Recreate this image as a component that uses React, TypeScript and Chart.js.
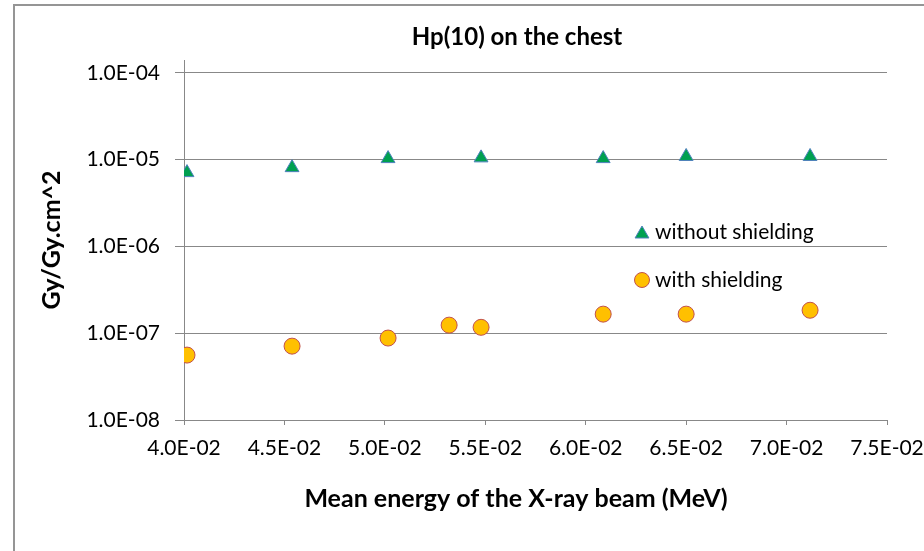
import React, { useEffect, useRef } from "react";
import { Chart, registerables } from "chart.js";

Chart.register(...registerables);

const FONT = "Lato, 'Open Sans', sans-serif";

const chartTitle = "Hp(10) on the chest";
const xAxisTitle = "Mean energy of the X-ray beam (MeV)";
const yAxisTitle = "Gy/Gy.cm^2";

const seriesNames = ["without shielding", "with shielding"];

const energiesWithout = [0.04015, 0.04538, 0.05016, 0.05479, 0.06087, 0.065, 0.07117];
const valuesWithout = [7.1e-6, 8.1e-6, 1.03e-5, 1.05e-5, 1.03e-5, 1.09e-5, 1.09e-5];

const energiesWith = [0.04015, 0.04538, 0.05016, 0.0532, 0.05479, 0.06087, 0.065, 0.07117];
const valuesWith = [5.6e-8, 7.1e-8, 8.8e-8, 1.24e-7, 1.17e-7, 1.66e-7, 1.66e-7, 1.84e-7];

const xMin = 0.04;
const xMax = 0.075;
const xStep = 0.005;
const yMin = 1e-8;
const yMax = 1.41e-4;

function sci(v: number, digits: number) {
  const s = v.toExponential(digits);
  const [m, e] = s.split("e");
  const n = parseInt(e, 10);
  const sign = n < 0 ? "-" : "+";
  const abs = Math.abs(n).toString().padStart(2, "0");
  return `${m}E${sign}${abs}`;
}

function isDecade(v: number) {
  const l = Math.log10(v);
  return Math.abs(l - Math.round(l)) < 1e-6;
}

const overlayPlugin = {
  id: "overlay",
  afterDraw(chart: any) {
    const ctx = chart.ctx as CanvasRenderingContext2D;
    ctx.save();
    ctx.fillStyle = "#000";
    ctx.textAlign = "center";
    ctx.textBaseline = "middle";
    ctx.font = `bold 24px ${FONT}`;
    ctx.fillText(chartTitle, 517, 37);
    ctx.font = `bold 25px ${FONT}`;
    ctx.fillText(xAxisTitle, 516, 499);

    // legend
    const lx = 642;
    const rows = [232, 280];
    ctx.font = `21px ${FONT}`;
    ctx.textAlign = "left";
    chart.data.datasets.forEach((ds: any, i: number) => {
      const y = rows[i];
      ctx.fillStyle = ds.backgroundColor;
      ctx.strokeStyle = ds.borderColor;
      ctx.lineWidth = ds.borderWidth;
      const r = ds.legendRadius;
      ctx.beginPath();
      if (ds.pointStyle === "triangle") {
        const h = r * 1.5;
        const w = r * Math.sqrt(3);
        ctx.moveTo(lx, y - h / 2);
        ctx.lineTo(lx + w / 2, y + h / 2);
        ctx.lineTo(lx - w / 2, y + h / 2);
        ctx.closePath();
      } else {
        ctx.arc(lx, y, r, 0, Math.PI * 2);
      }
      ctx.fill();
      ctx.stroke();
      ctx.fillStyle = "#000";
      ctx.fillText(ds.label, lx + 13, y);
    });
    ctx.restore();
  },
};

export default function App() {
  const ref = useRef<HTMLCanvasElement>(null);

  useEffect(() => {
    if (!ref.current) return;
    const chart = new Chart(ref.current, {
      type: "scatter",
      data: {
        datasets: [
          {
            label: seriesNames[0],
            data: energiesWithout.map((x, i) => ({ x, y: valuesWithout[i] })),
            pointStyle: "triangle",
            pointRadius: 8,
            pointHoverRadius: 8,
            backgroundColor: "#00A050",
            borderColor: "#4F81BD",
            borderWidth: 1,
            legendRadius: 8,
          } as any,
          {
            label: seriesNames[1],
            data: energiesWith.map((x, i) => ({ x, y: valuesWith[i] })),
            pointStyle: "circle",
            pointRadius: 8,
            pointHoverRadius: 8,
            backgroundColor: "#FFC000",
            borderColor: "#C0504D",
            borderWidth: 1,
            legendRadius: 7.5,
          } as any,
        ],
      },
      options: {
        animation: false,
        responsive: false,
        layout: { padding: { left: 15, right: 37, top: 60, bottom: 0 } },
        plugins: {
          legend: { display: false },
          title: { display: false },
          tooltip: { enabled: false },
        },
        scales: {
          x: {
            type: "linear",
            min: xMin,
            max: xMax,
            afterFit(scale: any) {
              scale.height = 131;
              scale.paddingLeft = 0;
              scale.paddingRight = 0;
            },
            afterBuildTicks(scale: any) {
              const t = [];
              for (let v = xMin; v <= xMax + 1e-9; v += xStep) t.push({ value: Math.round(v * 1e6) / 1e6 });
              scale.ticks = t;
            },
            ticks: {
              color: "#000",
              font: { family: FONT, size: 21 },
              padding: 11,
              maxRotation: 0,
              autoSkip: false,
              callback: (v: any) => sci(Number(v), 1),
            },
            grid: { drawOnChartArea: false, drawTicks: true, tickLength: 5, color: "#888" },
            border: { color: "#888", width: 1 },
            title: { display: false, text: xAxisTitle },
          },
          y: {
            type: "logarithmic",
            min: yMin,
            max: yMax,
            afterFit(scale: any) {
              scale.width = 169;
              scale.paddingTop = 0;
              scale.paddingBottom = 0;
            },
            ticks: {
              color: "#000",
              font: { family: FONT, size: 21 },
              padding: 15,
              autoSkip: false,
              callback: (v: any) => (isDecade(Number(v)) ? sci(Number(v), 1) : null),
            },
            grid: { color: "#888", lineWidth: 1, drawTicks: true, tickLength: 9 },
            border: { color: "#888", width: 1 },
            title: {
              display: true,
              text: yAxisTitle,
              color: "#000",
              font: { family: FONT, size: 25, weight: "bold" },
              padding: { top: 22, bottom: 0 },
            },
          },
        },
      } as any,
      plugins: [overlayPlugin],
    });
    return () => chart.destroy();
  }, []);

  return (
    <div
      style={{
        position: "fixed",
        left: 0,
        top: 0,
        width: 924,
        height: 551,
        overflow: "hidden",
        background: "#fff",
      }}
    >
      <div
        style={{
          position: "absolute",
          left: 13,
          top: 4,
          width: 1000,
          height: 700,
          border: "2px solid #959595",
        }}
      />
      <canvas ref={ref} width={924} height={551} style={{ position: "absolute", left: 0, top: 0 }} />
    </div>
  );
}
